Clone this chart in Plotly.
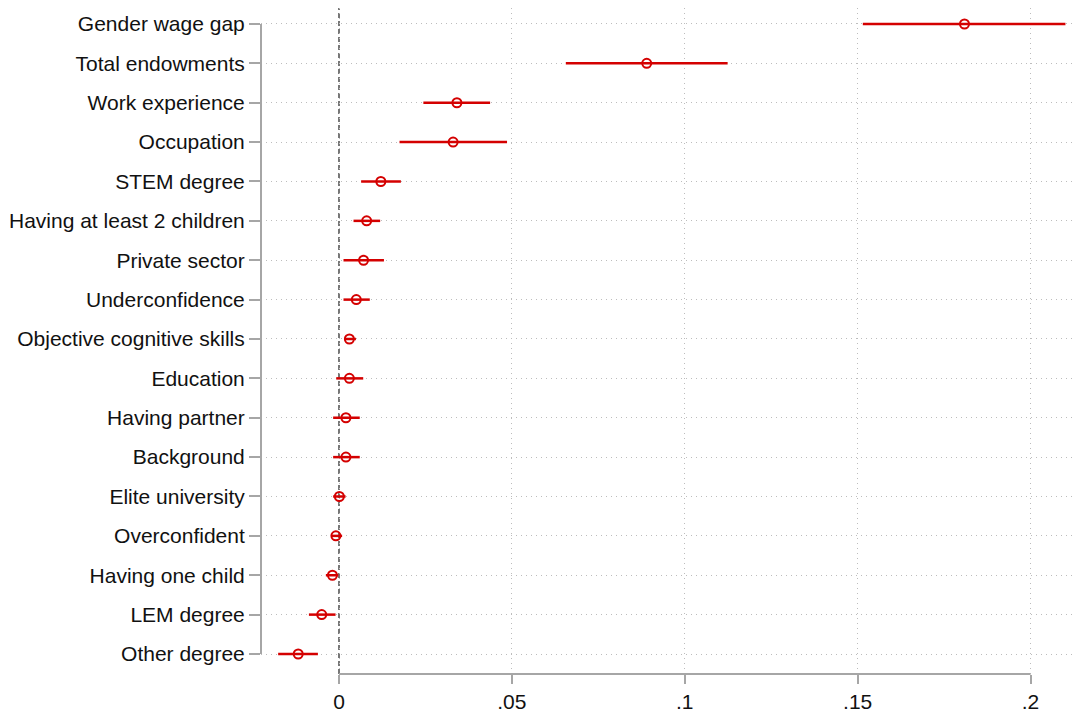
import plotly.graph_objects as go

categories = [
    "Gender wage gap", "Total endowments", "Work experience", "Occupation",
    "STEM degree", "Having at least 2 children", "Private sector",
    "Underconfidence", "Objective cognitive skills", "Education",
    "Having partner", "Background", "Elite university", "Overconfident",
    "Having one child", "LEM degree", "Other degree",
]
estimates = [0.1809, 0.0890, 0.0341, 0.0330, 0.0121, 0.0080, 0.0071,
             0.0050, 0.0030, 0.0030, 0.0020, 0.0020, 0.0001, -0.0009,
             -0.0019, -0.0050, -0.0118]
ci_low = [0.1515, 0.0656, 0.0244, 0.0175, 0.0064, 0.0042, 0.0013,
          0.0013, 0.0015, -0.0008, -0.0017, -0.0017, -0.0017, -0.0023,
          -0.0038, -0.0087, -0.0176]
ci_high = [0.2101, 0.1124, 0.0437, 0.0486, 0.0179, 0.0119, 0.0130,
           0.0089, 0.0049, 0.0070, 0.0060, 0.0060, 0.0019, 0.0009,
           -0.0002, -0.0010, -0.0061]
x_tickvals = [0, 0.05, 0.1, 0.15, 0.2]
x_ticktext = ["0", ".05", ".1", ".15", ".2"]

RED = "#d40000"
AXIS = "#a6a6a6"
GRID = "#bdbdbd"
FONT_SIZE = 21

err_plus = [h - e for h, e in zip(ci_high, estimates)]
err_minus = [e - l for e, l in zip(estimates, ci_low)]

fig = go.Figure()
fig.add_trace(go.Scatter(
    x=estimates, y=categories, mode="markers",
    marker=dict(symbol="circle-open", size=9, color=RED, line=dict(width=2, color=RED)),
    error_x=dict(type="data", array=err_plus, arrayminus=err_minus,
                 color=RED, thickness=2.5, width=0, symmetric=False),
    showlegend=False, hoverinfo="skip",
))

# zero reference line
fig.add_shape(type="line", xref="x", yref="paper", x0=0, x1=0, y0=0, y1=1,
              line=dict(color="#777777", width=2, dash="5px,3px"), layer="below")
# axis lines spanning tick ranges (Stata-like)
fig.add_shape(type="line", xref="x", yref="paper", x0=0, x1=0.2, y0=0, y1=0,
              line=dict(color=AXIS, width=2), layer="above")
fig.add_shape(type="line", xref="paper", yref="y", x0=0, x1=0,
              y0=categories[0], y1=categories[-1],
              line=dict(color=AXIS, width=2), layer="above")

fig.update_layout(
    width=1073, height=708,
    margin=dict(l=253, r=0, t=0, b=42, autoexpand=False),
    paper_bgcolor="white", plot_bgcolor="white",
    font=dict(family="Liberation Sans, Arial, sans-serif", size=FONT_SIZE, color="#111111"),
    xaxis=dict(
        range=[-0.02256, 0.2146], tickvals=x_tickvals, ticktext=x_ticktext,
        showgrid=True, gridcolor=GRID, gridwidth=1, griddash="1px,4px",
        zeroline=False, showline=False,
        ticks="outside", ticklen=9, tickwidth=2, tickcolor=AXIS,
        tickfont=dict(size=FONT_SIZE), automargin=False,
    ),
    yaxis=dict(
        type="category", categoryorder="array", categoryarray=categories,
        range=[16.508, -0.406],
        showgrid=True, gridcolor=GRID, gridwidth=1, griddash="1px,4px",
        zeroline=False, showline=False,
        ticks="outside", ticklen=11, tickwidth=2, tickcolor=AXIS,
        tickfont=dict(size=FONT_SIZE), ticklabelstandoff=0, automargin=False,
    ),
)

fig.write_html("out.html")
